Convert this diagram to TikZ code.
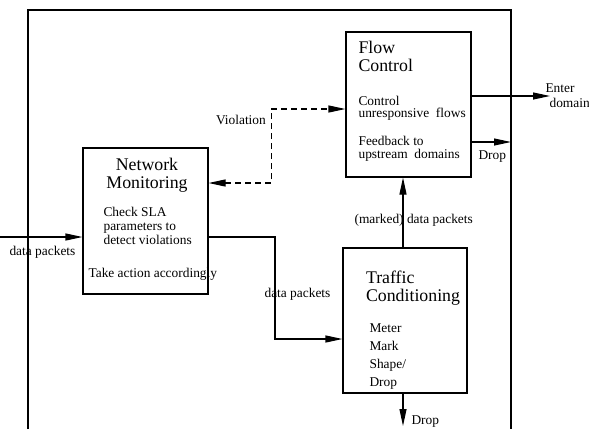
\documentclass[tikz,border=0pt]{standalone}
\usepackage{fontspec}
\setmainfont{Liberation Serif}
\usetikzlibrary{arrows.meta}

\begin{document}
\begin{tikzpicture}[x=1pt, y=-1pt, line width=1.1pt,
  >={Triangle[length=17pt,width=7pt]},
  box/.style={draw, rectangle, inner sep=0pt},
  ttl/.style={inner sep=0pt, font=\fontsize{17.8}{18}\selectfont},
  txt/.style={inner sep=0pt, anchor=base west, align=left},
  lbl/.style={inner sep=0pt, anchor=base west, font=\fontsize{13.4}{14}\selectfont}]
\useasboundingbox (0,0) rectangle (589,429);
% outer frame
\draw (28,429) -- (28,10) -- (511,10) -- (511,429);
% the three blocks
\node[box, minimum width=125pt, minimum height=146pt] (nm) at (145.5,221) {};
\node[box, minimum width=125pt, minimum height=145pt] (fc) at (408.5,104.5) {};
\node[box, minimum width=124pt, minimum height=145pt] (tc) at (405,320.5) {};
% block texts (base = last line)
\node[ttl, anchor=base, align=center] (nmTitle) at (147,188) {Network\\Monitoring};
\node[txt, font=\fontsize{13.4}{14}\selectfont] (nmBody) at (103,244) {Check SLA\\parameters to\\detect violations};
\node[lbl] (nmAct) at (88,277) {Take action accordingly};
\node[ttl, anchor=base west, align=left] (fcTitle) at (358,71) {Flow\\Control};
\node[txt, font=\fontsize{13.4}{12}\selectfont] (fcCtrl) at (358,117) {Control\\unresponsive\ \ flows};
\node[txt, font=\fontsize{13.4}{13}\selectfont] (fcFeed) at (358,158) {Feedback to\\upstream\ \ domains};
\node[ttl, anchor=base west, align=left] (tcTitle) at (365.5,301) {Traffic\\Conditioning};
\node[txt, font=\fontsize{13.4}{18}\selectfont] (tcBody) at (369,386) {Meter\\Mark\\Shape/\\Drop};
% connector points
\coordinate (in) at (0,237);
\coordinate (split) at (275,339);
\coordinate (vlow) at (271.5,183);
\coordinate (vhigh) at (271.5,109);
\coordinate (enter) at (550,96);
\coordinate (dropR) at (511,142);
\coordinate (up) at (403,0);
\coordinate (dropB) at (403,426);
% connectors
\draw[->] (in) -- (in -| nm.west);
\draw[->] (in -| nm.east) -| (split) -- (split -| tc.west);
\draw[<->, dashed, dash pattern=on 6pt off 4pt] (vlow -| nm.east) -- (vlow) -- (vhigh) -- (vhigh -| fc.west);
\draw[->] (enter -| fc.east) -- (enter);
\draw[->] (dropR -| fc.east) -- (dropR);
\draw[->] (tc.north -| up) -- (fc.south -| up);
\draw[->] (tc.south -| dropB) -- (dropB);
% connector labels
\node[lbl] (lIn) at (9,255) {data packets};
\node[lbl] (lMid) at (264,297) {data packets};
\node[lbl] (lViol) at (215.5,124) {Violation};
\node[lbl] (lMarked) at (354,223) {(marked) data packets};
\node[lbl] (lEnter) at (545,92) {Enter};
\node[lbl] (lDomain) at (549,107.5) {domain};
\node[lbl] (lDropR) at (478,159) {Drop};
\node[lbl] (lDropB) at (411,424) {Drop};
\end{tikzpicture}
\end{document}
